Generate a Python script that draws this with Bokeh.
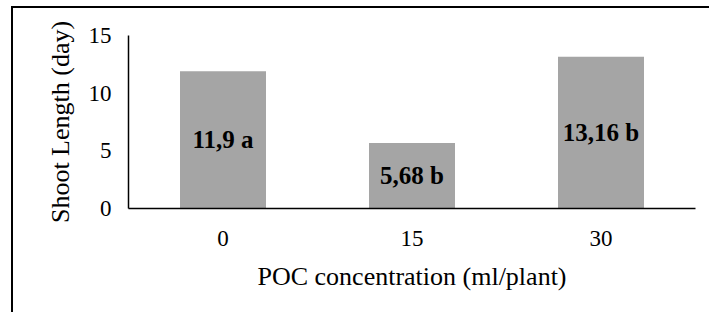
from bokeh.plotting import figure
from bokeh.models import ColumnDataSource, FixedTicker, LabelSet
from bokeh.embed import file_html
from bokeh.resources import INLINE

categories = ["0", "15", "30"]
values = [11.9, 5.68, 13.16]
bar_labels = ["11,9 a", "5,68 b", "13,16 b"]
y_ticks = [0, 5, 10, 15]

FONT = "Liberation Serif"

src = ColumnDataSource(dict(x=categories, top=values, mid=[v / 2 for v in values], lab=bar_labels))

p = figure(x_range=categories, y_range=(0, 15), width=698, height=306,
           output_backend="svg", toolbar_location=None,
           min_border_left=115, min_border_right=16, min_border_top=27, min_border_bottom=106)
p.styles = {"border-left": "2px solid black", "border-top": "2px solid black",
            "margin-left": "11px", "margin-top": "6px"}
p.outline_line_color = None
p.x_range.range_padding = 0
p.grid.visible = False

p.vbar(x="x", top="top", width=0.455, source=src, fill_color="#A5A5A5", line_color=None)

labels = LabelSet(x="x", y="mid", text="lab", source=src, text_align="center", text_baseline="middle",
                  text_font=FONT, text_font_size="25px", text_font_style="bold", text_color="black")
p.add_layout(labels)

for ax in (p.xaxis[0], p.yaxis[0]):
    ax.axis_line_color = "black"
    ax.axis_line_width = 1.5
    ax.major_tick_line_color = None
    ax.minor_tick_line_color = None
    ax.major_label_text_font = FONT
    ax.major_label_text_font_size = "23px"
    ax.major_label_text_color = "black"
    ax.axis_label_text_font = FONT
    ax.axis_label_text_font_size = "26px"
    ax.axis_label_text_font_style = "normal"
    ax.axis_label_text_color = "black"

p.yaxis[0].ticker = FixedTicker(ticks=y_ticks)
p.yaxis[0].major_label_standoff = 11
p.yaxis[0].axis_label = "Shoot Length (day)"
p.yaxis[0].axis_label_standoff = 11
p.xaxis[0].major_label_standoff = 16
p.xaxis[0].axis_label = "POC concentration (ml/plant)"
p.xaxis[0].axis_label_standoff = 13

open("out.html", "w").write(file_html(p, INLINE))
